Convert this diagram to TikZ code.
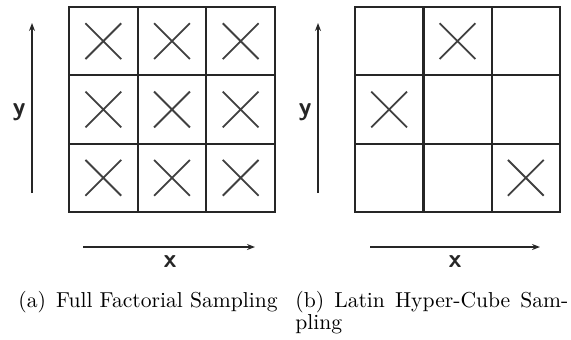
\documentclass[tikz,border=0pt]{standalone}
\usepackage{tikz}
\usetikzlibrary{shapes.misc,arrows.meta,positioning}

\begin{document}
\begin{tikzpicture}[x=0.5pt, y=-0.5pt,
    cell/.style={draw=black!85, line width=1pt, minimum width=34.33pt, minimum height=34.17pt, inner sep=0pt, outer sep=0pt},
    sample/.style={draw=black!75, line width=0.9pt, cross out, minimum size=17pt, inner sep=0pt},
    axis/.style={draw=black!85, line width=0.8pt, -{Stealth[length=4pt, width=3pt]}},
    axislabel/.style={font=\fontsize{13}{13}\sffamily\bfseries, text=black!85, inner sep=0pt, anchor=base},
    caption/.style={font=\fontsize{10.8}{11}\selectfont, inner sep=0pt, anchor=base west}]
  \useasboundingbox (0,0) rectangle (571,339);
  % Grids
  \foreach \i in {0,1,2} {
    \foreach \j in {0,1,2} {
      \node[cell] (ff-\i\j) at ({69+68.67*(\i+0.5)}, {7+68.33*(\j+0.5)}) {};
      \node[cell] (lh-\i\j) at ({355+68.33*(\i+0.5)}, {7+68.33*(\j+0.5)}) {};
    }
  }
  % Samples
  \foreach \i in {0,1,2} {
    \foreach \j in {0,1,2} {
      \node[sample] (ffs-\i\j) at (ff-\i\j) {};
    }
  }
  \node[sample] (lhs-10) at (lh-10) {};
  \node[sample] (lhs-01) at (lh-01) {};
  \node[sample] (lhs-22) at (lh-22) {};
  % Axes
  \coordinate (ffy0) at (32,193);
  \coordinate (ffy1) at (32,23);
  \coordinate (ffx0) at (83,247);
  \coordinate (ffx1) at (255,247);
  \coordinate (lhy0) at (318,193);
  \coordinate (lhy1) at (318,23);
  \coordinate (lhx0) at (370,247);
  \coordinate (lhx1) at (540,247);
  \draw[axis] (ffy0) -- (ffy1);
  \draw[axis] (ffx0) -- (ffx1);
  \draw[axis] (lhy0) -- (lhy1);
  \draw[axis] (lhx0) -- (lhx1);
  % Labels
  \node[axislabel] (ffxl) at (170,267) {x};
  \node[axislabel] (ffyl) at (19,115) {y};
  \node[axislabel] (lhxl) at (455,267) {x};
  \node[axislabel] (lhyl) at (305,115) {y};
  % Captions
  \node[caption] (ffcap) at (18,307) {(a)\hspace{1.5pt} Full Factorial Sampling};
  \node[caption] (lhcap) at (295,307)
    {\vtop{\hbox{\makebox[136.5pt][s]{(b) Latin Hyper-Cube Sam-}}\hbox{pling}}};
\end{tikzpicture}
\end{document}
